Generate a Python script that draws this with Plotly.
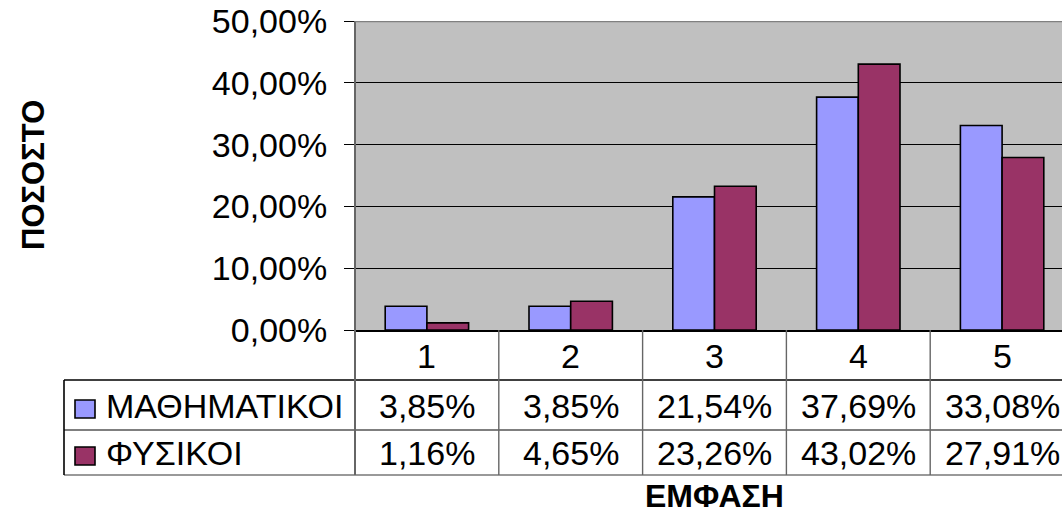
import plotly.graph_objects as go

# Survey results: share of answers per emphasis level
categories = ["1", "2", "3", "4", "5"]
series_names = ["ΜΑΘΗΜΑΤΙΚΟΙ", "ΦΥΣΙΚΟΙ"]
math_values = [3.85, 3.85, 21.54, 37.69, 33.08]
phys_values = [1.16, 4.65, 23.26, 43.02, 27.91]
y_ticks = [0, 10, 20, 30, 40, 50]
y_tick_labels = ["0,00%", "10,00%", "20,00%", "30,00%", "40,00%", "50,00%"]
x_title = "ΕΜΦΑΣΗ"
y_title = "ΠΟΣΟΣΤΟ"

colors = ["#9999FF", "#993366"]
FONT = "Liberation Sans, Arial, sans-serif"
W, H = 1062, 515
L, T, B = 355, 21, 330          # plot area edges in pixels
PW, PH = W - L, B - T
TXT = 34


def xp(px):
    return (px - L) / PW


def yp(py):
    return (B - py) / PH


def fmt(v):
    return f"{v:.2f}".replace(".", ",") + "%"


def label(x, y, text, xref="paper", xanchor="center", size=TXT, bold=False, angle=0):
    font = dict(size=size, family=FONT, color="black")
    if bold:
        font["weight"] = "bold"
    return dict(x=x, y=y, xref=xref, yref="paper", text=text, showarrow=False,
                xanchor=xanchor, yanchor="middle", textangle=angle, font=font,
                borderpad=0)


fig = go.Figure()
for name, vals, col in zip(series_names, [math_values, phys_values], colors):
    fig.add_trace(go.Bar(
        x=list(range(len(categories))), y=vals, name=name,
        marker=dict(color=col, line=dict(color="black", width=1.6)),
        showlegend=False,
    ))

shapes = []
annotations = []

# data table: horizontal rules
for py, col, w in [(380, "black", 1.6), (430, "#555555", 1.4), (475, "#777777", 1.4)]:
    shapes.append(dict(type="line", xref="paper", yref="paper",
                       x0=xp(64), x1=1, y0=yp(py), y1=yp(py),
                       line=dict(color=col, width=w)))
# left border of the table body
shapes.append(dict(type="line", xref="paper", yref="paper",
                   x0=xp(64), x1=xp(64), y0=yp(380), y1=yp(475),
                   line=dict(color="black", width=1.6)))
# plot-area left edge continued down through the table
shapes.append(dict(type="line", xref="paper", yref="paper",
                   x0=0, x1=0, y0=1, y1=yp(475),
                   line=dict(color="#666666", width=2)))
# column separators
for i in range(len(categories) - 1):
    shapes.append(dict(type="line", xref="x", yref="paper",
                       x0=i + 0.5, x1=i + 0.5, y0=0, y1=yp(475),
                       line=dict(color="#666666", width=1.4)))
# plot-area top edge
shapes.append(dict(type="line", xref="paper", yref="y",
                   x0=0, x1=1, y0=50, y1=50,
                   line=dict(color="#808080", width=2.5)))

# category header row
for i, c in enumerate(categories):
    annotations.append(label(i, yp(356), c, xref="x"))

# series rows
row_centers = [406, 453]
for name, vals, col, rc in zip(series_names, [math_values, phys_values], colors, row_centers):
    shapes.append(dict(type="rect", xref="paper", yref="paper",
                       x0=xp(75), x1=xp(95), y0=yp(rc + 3 + 9), y1=yp(rc + 3 - 9),
                       fillcolor=col, line=dict(color="black", width=1.6)))
    annotations.append(label(xp(105), yp(rc), name, xanchor="left"))
    for i, v in enumerate(vals):
        annotations.append(label(i, yp(rc), fmt(v), xref="x"))

# axis titles
annotations.append(label(xp(714), yp(496), x_title, size=32, bold=True))
annotations.append(label(xp(33), yp(175), y_title, size=31, bold=True, angle=-90))

fig.update_layout(
    width=W, height=H,
    margin=dict(l=L, r=0, t=T, b=H - B, pad=0),
    paper_bgcolor="white", plot_bgcolor="#C0C0C0",
    barmode="group", bargap=0.42, bargroupgap=0,
    shapes=shapes, annotations=annotations,
    xaxis=dict(range=[-0.5, -0.5 + PW / 143.8], showticklabels=False, showgrid=False,
               zeroline=False, showline=True, linecolor="black", linewidth=2, ticks=""),
    yaxis=dict(range=[0, 50], tickvals=y_ticks, ticktext=y_tick_labels,
               ticks="outside", ticklen=10, tickcolor="black", tickwidth=1.4,
               ticklabelstandoff=10,
               showgrid=True, gridcolor="black", gridwidth=1.2, zeroline=False,
               showline=False, tickfont=dict(size=TXT, family=FONT, color="black")),
)

fig.write_html("out.html")
